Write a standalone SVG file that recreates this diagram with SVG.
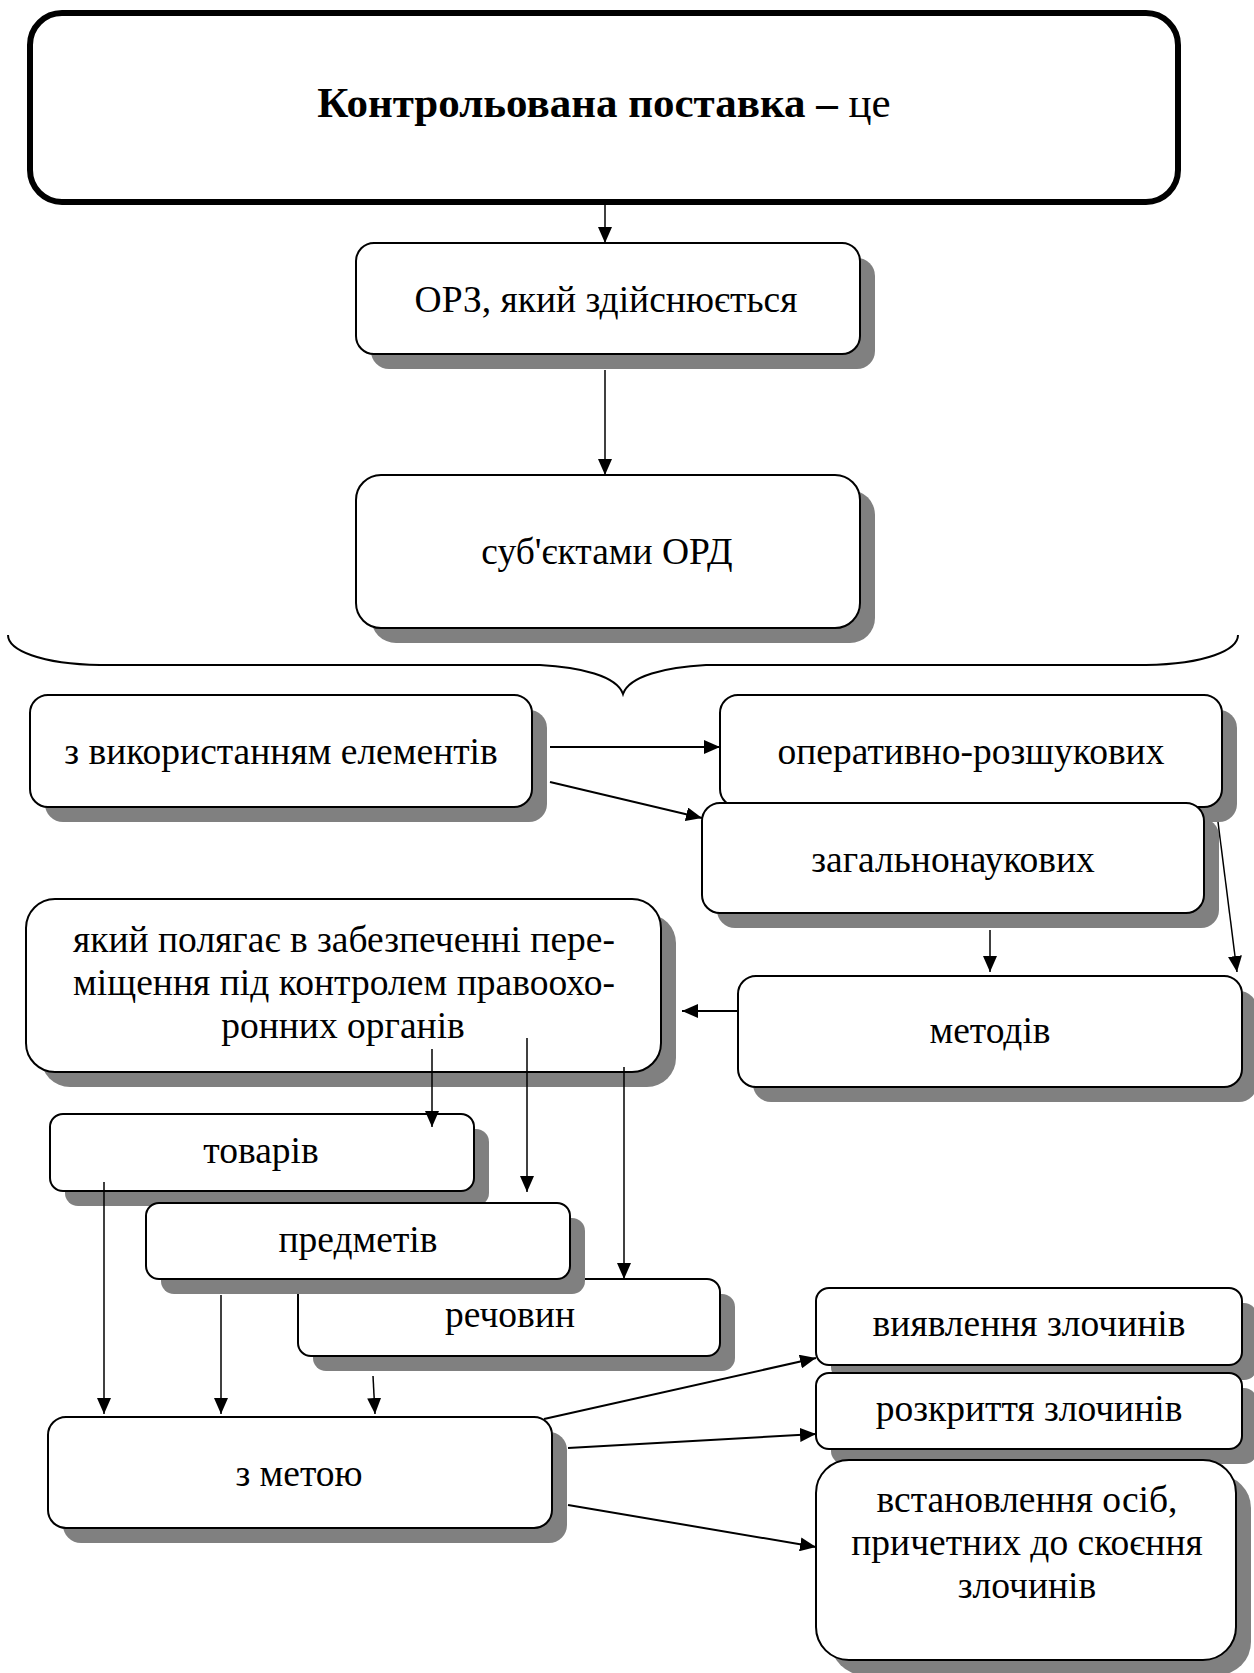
<svg xmlns="http://www.w3.org/2000/svg" width="1254" height="1673" viewBox="0 0 1254 1673">
<defs>
<marker id="ah" markerUnits="userSpaceOnUse" markerWidth="16" markerHeight="14" refX="16" refY="7" orient="auto" viewBox="0 0 16 14">
<path d="M0,0 L16,7 L0,14 z" fill="#000"/>
</marker>
</defs>
<style>
.sh{fill:#808080;stroke:none}
.bx{fill:#fff;stroke:#000;stroke-width:2}
.t{font-family:"Liberation Serif","Times New Roman",serif;font-size:37.5px;fill:#000;text-anchor:middle}
.c{fill:none;stroke:#000;stroke-width:1.5;marker-end:url(#ah)}
.c2{fill:none;stroke:#000;stroke-width:2;marker-end:url(#ah)}
</style>
<rect width="1254" height="1673" fill="#fff"/>
<g id="main">
<rect x="30" y="13" width="1148" height="189" rx="32" fill="#fff" stroke="#000" stroke-width="6"/>
<text class="t" x="604" y="117" style="font-size:43px"><tspan font-weight="bold">Контрольована поставка –</tspan> це</text>
</g>
<g id="orz">
<rect class="sh" x="371" y="258" width="504" height="111" rx="18"/>
<rect class="bx" x="356" y="243" width="504" height="111" rx="18"/>
<text class="t" x="606" y="312">ОРЗ, який здійснюється</text>
</g>
<g id="subj">
<rect class="sh" x="371" y="490" width="504" height="153" rx="25"/>
<rect class="bx" x="356" y="475" width="504" height="153" rx="25"/>
<text class="t" x="607" y="564">суб'єктами ОРД</text>
</g>
<g id="brace">
<path d="M8,635 C8,650 40,664 100,665 L540,665 C580,667 617,676 623,694 C629,676 666,667 706,665 L1146,665 C1206,664 1238,650 1238,635" fill="none" stroke="#000" stroke-width="2"/>
</g>
<g id="vykor">
<rect class="sh" x="45" y="710" width="502" height="112" rx="18"/>
<rect class="bx" x="30" y="695" width="502" height="112" rx="18"/>
<text class="t" x="281" y="764">з використанням елементів</text>
</g>
<g id="operat">
<rect class="sh" x="735" y="710" width="502" height="112" rx="18"/>
<rect class="bx" x="720" y="695" width="502" height="112" rx="18"/>
<text class="t" x="971" y="764">оперативно-розшукових</text>
</g>
<g id="zagal">
<rect class="sh" x="717" y="818" width="502" height="110" rx="18"/>
<rect class="bx" x="702" y="803" width="502" height="110" rx="18"/>
<text class="t" x="953" y="872">загальнонаукових</text>
</g>
<g id="metod">
<rect class="sh" x="753" y="991" width="504" height="111" rx="18"/>
<rect class="bx" x="738" y="976" width="504" height="111" rx="18"/>
<text class="t" x="990" y="1043">методів</text>
</g>
<g id="yakyi">
<rect class="sh" x="41" y="914" width="635" height="173" rx="29"/>
<rect class="bx" x="26" y="899" width="635" height="173" rx="29"/>
<text class="t" x="344" y="952" textLength="542" lengthAdjust="spacing">який полягає в забезпеченні пере-</text>
<text class="t" x="344" y="995" textLength="542" lengthAdjust="spacing">міщення під контролем правоохо-</text>
<text class="t" x="343" y="1038">ронних органів</text>
</g>
<g id="tovar">
<rect class="sh" x="65" y="1129" width="424" height="77" rx="13"/>
<rect class="bx" x="50" y="1114" width="424" height="77" rx="13"/>
<text class="t" x="261" y="1163">товарів</text>
</g>
<g id="rechov">
<rect class="sh" x="313" y="1294" width="422" height="77" rx="13"/>
<rect class="bx" x="298" y="1279" width="422" height="77" rx="13"/>
<text class="t" x="510" y="1327">речовин</text>
</g>
<g id="predm">
<rect class="sh" x="161" y="1218" width="424" height="76" rx="13"/>
<rect class="bx" x="146" y="1203" width="424" height="76" rx="13"/>
<text class="t" x="358" y="1252">предметів</text>
</g>
<g id="zmetoyu">
<rect class="sh" x="63" y="1432" width="504" height="111" rx="18"/>
<rect class="bx" x="48" y="1417" width="504" height="111" rx="18"/>
<text class="t" x="299" y="1486">з метою</text>
</g>
<g id="vyyavl">
<rect class="sh" x="831" y="1303" width="426" height="77" rx="13"/>
<rect class="bx" x="816" y="1288" width="426" height="77" rx="13"/>
<text class="t" x="1029" y="1336">виявлення злочинів</text>
</g>
<g id="rozkr">
<rect class="sh" x="831" y="1388" width="426" height="76" rx="13"/>
<rect class="bx" x="816" y="1373" width="426" height="76" rx="13"/>
<text class="t" x="1029" y="1421">розкриття злочинів</text>
</g>
<g id="vstan">
<rect class="sh" x="831" y="1475" width="420" height="200" rx="33"/>
<rect class="bx" x="816" y="1460" width="420" height="200" rx="33"/>
<text class="t" x="1027" y="1512">встановлення осіб,</text>
<text class="t" x="1027" y="1555">причетних до скоєння</text>
<text class="t" x="1027" y="1598">злочинів</text>
</g>
<g id="connectors">
<line class="c" x1="605" y1="205" x2="605" y2="243"/>
<line class="c" x1="605" y1="370" x2="605" y2="475"/>
<line class="c2" x1="550" y1="747" x2="720" y2="747"/>
<line class="c2" x1="550" y1="782" x2="702" y2="818"/>
<line class="c" x1="1218" y1="822" x2="1237" y2="972"/>
<line class="c" x1="990" y1="930" x2="990" y2="972"/>
<line class="c2" x1="738" y1="1011" x2="682" y2="1011"/>
<line class="c" x1="432" y1="1049" x2="432" y2="1127"/>
<line class="c" x1="527" y1="1038" x2="527" y2="1192"/>
<line class="c" x1="624" y1="1067" x2="624" y2="1279"/>
<line class="c" x1="104" y1="1182" x2="104" y2="1414"/>
<line class="c" x1="221" y1="1295" x2="221" y2="1414"/>
<line class="c" x1="373" y1="1376" x2="375" y2="1414"/>
<line class="c2" x1="544" y1="1419" x2="816" y2="1358"/>
<line class="c2" x1="568" y1="1448" x2="816" y2="1434"/>
<line class="c2" x1="568" y1="1505" x2="816" y2="1547"/>
</g>
</svg>
